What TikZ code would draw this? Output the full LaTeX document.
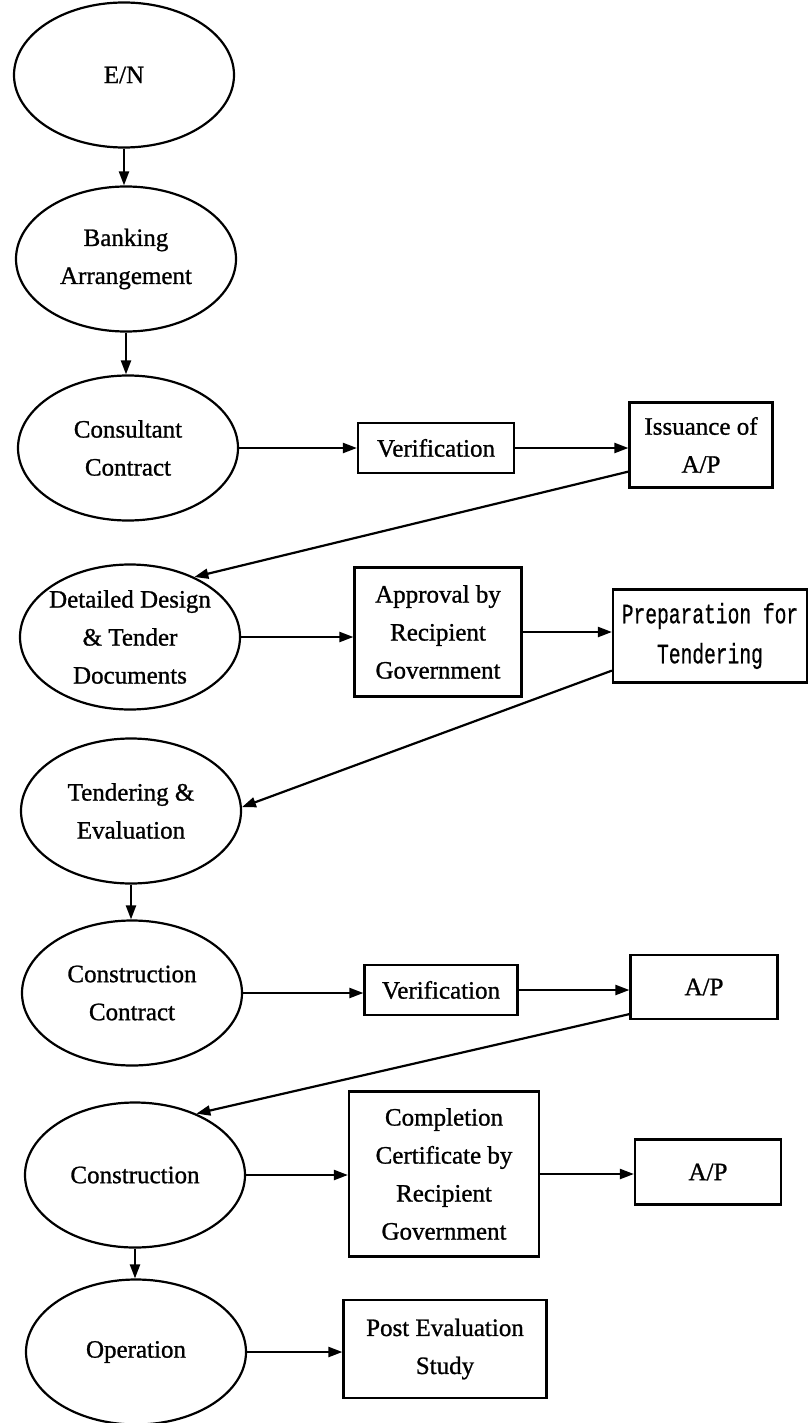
\documentclass[tikz,border=0pt]{standalone}
\usepackage{fontspec}
\setmainfont{Liberation Serif}[FakeBold=1.0]
\newfontfamily\prepfont[FakeStretch=0.7,FakeBold=0.6]{Liberation Mono}
\usetikzlibrary{shapes.geometric,arrows.meta}
\begin{document}
\begin{tikzpicture}[x=1pt,y=-1pt,
  stage/.style={draw,ellipse,line width=2.2pt,minimum width=220pt,minimum height=145pt,inner sep=-4pt,align=center,font=\fontsize{25}{38}\selectfont},
  boxnode/.style={draw,rectangle,line width=2.2pt,inner sep=0pt,align=center,font=\fontsize{25}{38}\selectfont},
  flow/.style={line width=2.2pt,-{Triangle[length=14pt,width=10pt]}}]
\useasboundingbox (0,0) rectangle (809,1423);
% stages
\node[stage] (en) at (124,75) {E/N};
\node[stage] (bank) at (126,259) {Banking\\Arrangement};
\node[stage] (cons) at (128,448) {Consultant\\Contract};
\node[stage] (det) at (130,637) {Detailed Design\\\& Tender\\Documents};
\node[stage] (tend) at (131,811) {Tendering \&\\Evaluation};
\node[stage] (ccon) at (132,993) {Construction\\Contract};
\node[stage] (constr) at (135,1175) {Construction};
\node[stage] (oper) at (136,1352) {Operation};
% boxes
\node[boxnode,minimum width=156pt,minimum height=50pt] (ver1) at (436,448) {Verification};
\node[boxnode,minimum width=143pt,minimum height=85pt] (iss) at (701,445) {Issuance of\\A/P};
\node[boxnode,minimum width=167pt,minimum height=129pt] (appr) at (438,632) {Approval by\\Recipient\\Government};
\node[boxnode,minimum width=194pt,minimum height=93pt,font=\prepfont\fontsize{28}{40}\selectfont] (prep) at (710,636) {Preparation for\\Tendering};
\node[boxnode,minimum width=153pt,minimum height=50pt] (ver2) at (441,990) {Verification};
\node[boxnode,minimum width=147pt,minimum height=64pt] (ap1) at (704,987) {A/P};
\node[boxnode,minimum width=190pt,minimum height=165pt] (comp) at (444,1174) {Completion\\Certificate by\\Recipient\\Government};
\node[boxnode,minimum width=146pt,minimum height=65pt] (ap2) at (708,1172) {A/P};
\node[boxnode,minimum width=203pt,minimum height=98pt] (post) at (445,1349) {Post Evaluation\\Study};
% connectors
\draw[flow] (en.south) -- (en.south |- bank.north);
\draw[flow] (bank.south) -- (bank.south |- cons.north);
\draw[flow] (cons.east) -- (cons.east -| ver1.west);
\draw[flow] (ver1.east) -- (ver1.east -| iss.west);
\draw[flow] ([yshift=17pt]iss.south west) -- (det.43);
\draw[flow] (det.east) -- (det.east -| appr.west);
\draw[flow] (appr.east) -- (appr.east -| prep.west);
\draw[flow] ([yshift=13pt]prep.south west) -- (tend.2);
\draw[flow] (tend.south) -- (tend.south |- ccon.north);
\draw[flow] (ccon.east) -- (ccon.east -| ver2.west);
\draw[flow] (ver2.east) -- (ver2.east -| ap1.west);
\draw[flow] ([yshift=6pt]ap1.south west) -- (constr.45);
\draw[flow] (constr.east) -- (constr.east -| comp.west);
\draw[flow] (comp.east) -- (comp.east -| ap2.west);
\draw[flow] (constr.south) -- (constr.south |- oper.north);
\draw[flow] (oper.east) -- (oper.east -| post.west);
\end{tikzpicture}
\end{document}
